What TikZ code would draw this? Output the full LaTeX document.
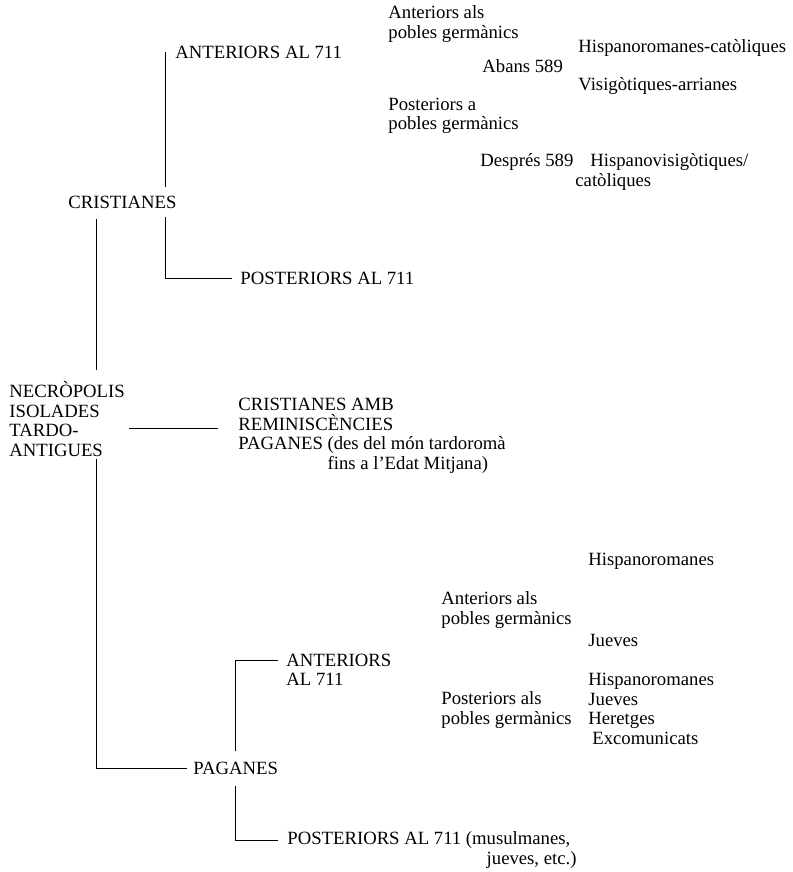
\documentclass[tikz,border=0pt]{standalone}
\usepackage{fontspec}
\setmainfont{Liberation Serif}

\begin{document}
\begin{tikzpicture}
	[x=1pt,y=-1pt,line width=.8pt,every node/.style={anchor=west, align=left, inner sep=0pt, font=\fontsize{18.7}{19.5}\selectfont}]
	\useasboundingbox (0,0) rectangle (792,872);
	% main branches
	\node (necro) at (9,419) {NECRÒPOLIS\\ISOLADES\\TARDO-\\ANTIGUES};
	\node (crist) at (68,202) {CRISTIANES};
	\node (amb) at (238,436) {CRISTIANES AMB\\REMINISCÈNCIES\\PAGANES (des del món tardoromà\\\phantom{PAGANES\ }fins a l'Edat Mitjana)};
	\node (pag) at (193,768) {PAGANES};
	% cristianes
	\node (antC) at (175,52) {ANTERIORS AL 711};
	\node (postC) at (240,278) {POSTERIORS AL 711};
	\node (antA) at (388,24) {Anteriors als\\pobles germànics};
	\node (hcat) at (578,48) {Hispanoromanes-catòliques};
	\node (abans) at (482,66) {Abans 589};
	\node (visi) at (578,86) {Visigòtiques-arrianes};
	\node (postA) at (388,116) {Posteriors a\\pobles germànics};
	\node (despres) at (480,162) {Després 589};
	\node (hvis) at (590,162) {Hispanovisigòtiques/};
	\node (catol) at (575,182) {catòliques};
	% paganes
	\node (antP) at (286,670) {ANTERIORS\\AL 711};
	\node (postP) at (287,850) {POSTERIORS AL 711 (musulmanes,\\\phantom{POSTERIORS AL 711 (m}jueves, etc.)};
	\node (antB) at (441,610) {Anteriors als\\pobles germànics};
	\node (hisp1) at (588,561) {Hispanoromanes};
	\node (jue1) at (588,640) {Jueves};
	\node (postB) at (441,710) {Posteriors als\\pobles germànics};
	\node (rest) at (588,709) {Hispanoromanes\\Jueves\\Heretges\\\hspace*{4pt}Excomunicats};

	\draw ([xshift=-10pt]antC.west) -- ([xshift=-10pt,yshift=8pt]antC.west |- crist.north);
	\draw ([xshift=-10pt,yshift=-8pt]antC.west |- crist.south) |- ([xshift=-8pt]postC.west);
	\draw ([xshift=28pt,yshift=-10pt]crist.south west) -- ([xshift=28pt,yshift=11pt]crist.south west |- necro.north);
	\draw ([xshift=4pt]necro.east |- amb.center) ++(0,-8) -- ([xshift=-20pt,yshift=8pt]amb.west);
	\draw ([xshift=87pt,yshift=-2pt]necro.south west) |- ([xshift=-6pt]pag.west);
	\draw ([yshift=10pt]pag.north) |- ([xshift=-8pt,yshift=9.5pt]antP.west);
	\draw ([yshift=-11pt]pag.south) |- ([xshift=-9pt,yshift=9.5pt]postP.west);
\end{tikzpicture}
\end{document}
